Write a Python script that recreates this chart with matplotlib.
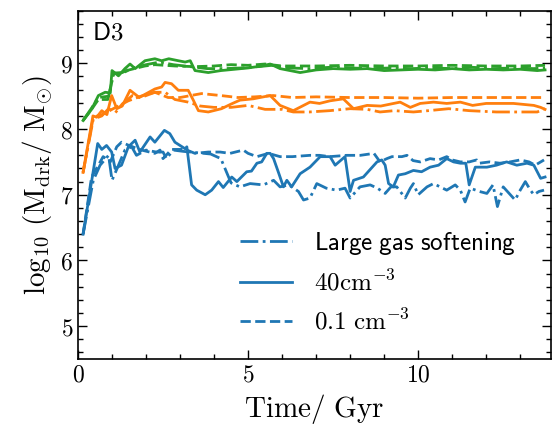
import numpy as np
import matplotlib
matplotlib.use('Agg')
import matplotlib.pyplot as plt
from matplotlib.ticker import MultipleLocator, FuncFormatter

plt.rcParams['mathtext.fontset'] = 'cm'
plt.rcParams['font.family'] = 'serif'
plt.rcParams['font.serif'] = ['DejaVu Serif']

# blue: run D3, three resolutions of the softening / density threshold
t_b_sol = [0.15, 0.58, 0.7, 0.84, 0.99, 1.09, 1.28, 1.48, 1.68, 1.82, 2.12, 2.26, 2.54, 2.7, 2.85, 3.15,
           3.2, 3.34, 3.49, 3.74, 3.93, 4.13, 4.27, 4.52, 4.67, 4.96, 5.1, 5.26, 5.4, 5.55, 5.65, 5.75,
           5.9, 6.04, 6.14, 6.28, 6.53, 6.82, 7.12, 7.41, 7.56, 7.85, 8.0, 8.1, 8.39, 8.79, 8.93, 9.03,
           9.13, 9.27, 9.42, 9.62, 9.86, 10.1, 10.35, 10.6, 10.84, 11.04, 11.24, 11.4, 11.5, 11.68,
           12.02, 12.3, 12.6, 12.9, 13.2, 13.4, 13.6, 13.73]
m_b_sol = [6.4, 7.78, 7.69, 7.75, 7.65, 7.40, 7.45, 7.73, 7.83, 7.65, 7.88, 7.80, 7.98, 7.93, 7.80, 7.70,
           7.73, 7.15, 7.07, 7.00, 7.07, 7.20, 7.11, 7.27, 7.20, 7.35, 7.36, 7.48, 7.50, 7.63, 7.63, 7.55,
           7.33, 7.12, 7.22, 7.12, 7.32, 7.42, 7.58, 7.58, 7.45, 7.58, 7.05, 7.22, 7.27, 7.50, 7.53, 7.45,
           7.17, 7.12, 7.30, 7.32, 7.37, 7.35, 7.42, 7.45, 7.55, 7.50, 7.48, 7.48, 7.15, 7.42,
           7.42, 7.45, 7.50, 7.45, 7.48, 7.45, 7.25, 7.27]

t_b_das = [0.15, 0.4, 0.6, 0.74, 0.95, 1.14, 1.28, 1.5, 1.87, 2.26, 2.41, 2.5, 2.75, 3.15, 3.44, 3.83,
           4.18, 4.47, 4.86, 5.0, 5.26, 5.6, 5.94, 6.3, 6.82, 7.1, 7.4, 7.9, 8.3, 8.7, 8.88, 9.08, 9.23,
           9.52, 9.67, 9.85, 10.06, 10.35, 10.6, 10.84, 11.0, 11.24, 11.5, 11.72, 11.8, 12.1, 12.4,
           12.7, 13.0, 13.26, 13.44, 13.7]
m_b_das = [6.4, 7.27, 7.45, 7.58, 7.50, 7.73, 7.80, 7.75, 7.68, 7.63, 7.68, 7.55, 7.69, 7.69, 7.63, 7.65,
           7.65, 7.63, 7.68, 7.63, 7.58, 7.63, 7.58, 7.58, 7.60, 7.60, 7.58, 7.60, 7.60, 7.63, 7.50, 7.55, 7.58,
           7.58, 7.60, 7.52, 7.50, 7.55, 7.53, 7.58, 7.53, 7.50, 7.50, 7.53, 7.48, 7.50, 7.48,
           7.50, 7.53, 7.50, 7.45, 7.53]

t_b_dd = [0.15, 0.45, 0.65, 0.9, 1.0, 1.15, 1.38, 1.58, 1.72, 2.0, 2.3, 2.5, 2.6, 2.8, 3.1, 3.5, 3.9,
          4.2, 4.5, 4.76, 5.06, 5.45, 5.75, 5.94, 6.2, 6.48, 6.63, 6.82, 7.02, 7.3, 7.6, 7.85, 8.0, 8.29,
          8.59, 8.8, 9.03, 9.2, 9.37, 9.62, 9.77, 9.86, 10.0, 10.26, 10.45, 10.84, 11.09, 11.24, 11.38,
          11.53, 11.8, 12.02, 12.2, 12.33, 12.5, 12.85, 13.0, 13.15, 13.3, 13.4, 13.55, 13.7]
m_b_dd = [6.4, 7.22, 7.45, 7.60, 7.22, 7.40, 7.68, 7.73, 7.60, 7.68, 7.65, 7.65, 7.55, 7.68, 7.66, 7.64, 7.62,
          7.55, 7.18, 7.12, 7.17, 7.15, 7.22, 7.12, 7.15, 7.05, 6.92, 6.95, 7.17, 7.10, 7.07, 7.10, 6.95, 7.12,
          7.15, 7.10, 7.02, 7.12, 7.12, 6.95, 7.10, 7.17, 7.00, 7.12, 7.17, 7.07, 7.15, 7.07, 6.89,
          7.10, 7.05, 7.02, 7.15, 6.82, 7.12, 6.92, 7.07, 7.20, 7.07, 7.00, 7.05, 7.07]

# orange
t_o_sol = [0.15, 0.44, 0.55, 0.7, 0.85, 0.99, 1.14, 1.3, 1.53, 1.73, 1.8, 2.26, 2.46, 2.56, 2.75, 2.95,
           3.24, 3.39, 3.54, 3.83, 4.22, 4.5, 4.76, 5.15, 5.65, 5.94, 6.33, 6.82, 7.1, 7.41, 7.8, 8.1,
           8.5, 8.9, 9.47, 9.77, 10.06, 10.45, 10.84, 11.24, 11.6, 12.0, 12.8, 13.4, 13.6, 13.73]
m_o_sol = [7.34, 8.20, 8.18, 8.28, 8.22, 8.51, 8.31, 8.35, 8.59, 8.51, 8.48, 8.61, 8.64, 8.71, 8.69, 8.59,
           8.59, 8.44, 8.28, 8.26, 8.31, 8.38, 8.44, 8.46, 8.51, 8.36, 8.28, 8.41, 8.39, 8.43, 8.46, 8.31,
           8.36, 8.35, 8.41, 8.33, 8.39, 8.41, 8.39, 8.41, 8.36, 8.39, 8.39, 8.36, 8.33, 8.30]

t_o_das = [0.15, 0.45, 0.7, 1.0, 1.48, 1.85, 2.26, 2.65, 3.0, 3.63, 4.2, 4.7, 5.2, 5.74, 6.3, 7.0,
           8.0, 9.0, 10.0, 11.0, 12.0, 13.0, 13.73]
m_o_das = [7.34, 8.18, 8.22, 8.30, 8.43, 8.50, 8.56, 8.48, 8.48, 8.54, 8.51, 8.48, 8.49, 8.51, 8.48, 8.49,
           8.48, 8.48, 8.47, 8.48, 8.48, 8.48, 8.48]

t_o_dd = [0.15, 0.45, 0.7, 0.9, 1.1, 1.3, 1.6, 1.85, 2.26, 2.56, 2.85, 3.24, 3.6, 4.0, 4.5, 5.0, 5.5,
          6.0, 6.33, 6.8, 7.4, 8.0, 8.5, 8.88, 9.3, 9.86, 10.3, 10.9, 11.5, 12.3, 13.0, 13.5, 13.73]
m_o_dd = [7.34, 8.15, 8.20, 8.31, 8.25, 8.38, 8.51, 8.48, 8.56, 8.56, 8.45, 8.41, 8.35, 8.33, 8.33, 8.36, 8.30,
          8.30, 8.26, 8.26, 8.28, 8.31, 8.30, 8.26, 8.28, 8.26, 8.28, 8.31, 8.28, 8.26, 8.26, 8.26, 8.31]

# green
t_g_sol = [0.15, 0.4, 0.6, 0.8, 0.95, 1.0, 1.19, 1.38, 1.53, 1.68, 1.97, 2.26, 2.46, 2.67, 2.95, 3.15,
           3.3, 3.44, 3.83, 4.2, 4.6, 5.0, 5.4, 5.65, 5.94, 6.53, 7.0, 7.5, 8.0, 8.5, 9.0, 9.5, 10.0,
           10.5, 11.0, 11.5, 12.0, 12.5, 13.0, 13.5, 13.73]
m_g_sol = [8.13, 8.30, 8.51, 8.56, 8.55, 8.89, 8.81, 8.92, 8.99, 8.92, 9.04, 9.07, 9.04, 9.07, 9.04, 9.02,
           9.04, 8.89, 8.86, 8.89, 8.91, 8.93, 8.96, 8.99, 8.92, 8.86, 8.90, 8.92, 8.91, 8.92, 8.89, 8.90, 8.91,
           8.90, 8.92, 8.90, 8.91, 8.90, 8.91, 8.89, 8.90]

t_g_das = [0.15, 0.4, 0.6, 0.88, 1.05, 1.3, 1.5, 1.97, 2.26, 2.85, 3.44, 4.0, 4.5, 5.0, 5.5, 6.0,
           7.0, 8.0, 9.0, 10.0, 11.0, 12.0, 13.0, 13.73]
m_g_das = [8.13, 8.30, 8.45, 8.45, 8.85, 8.85, 8.90, 8.96, 8.98, 8.96, 8.95, 8.96, 8.98, 8.97, 8.99, 8.96,
           8.96, 8.97, 8.96, 8.96, 8.97, 8.96, 8.96, 8.97]

t_g_dd = [0.15, 0.4, 0.6, 0.9, 1.05, 1.3, 1.6, 2.0, 2.4, 2.8, 3.3, 3.8, 4.3, 4.8, 5.3, 5.7, 6.2,
          6.8, 7.4, 8.0, 8.6, 9.2, 9.8, 10.4, 11.0, 11.6, 12.2, 12.8, 13.4, 13.73]
m_g_dd = [8.13, 8.32, 8.48, 8.50, 8.85, 8.86, 8.93, 8.98, 9.02, 8.98, 8.95, 8.92, 8.92, 8.93, 8.95, 8.97, 8.93,
          8.92, 8.94, 8.93, 8.92, 8.93, 8.92, 8.93, 8.92, 8.94, 8.92, 8.93, 8.92, 8.93]

fig = plt.figure(figsize=(5.55, 4.32), dpi=100)
ax = fig.add_axes([0.1405, 0.169, 0.852, 0.806])

lw = 2.0
ax.plot(t_g_dd, m_g_dd, c='tab:green', ls='-.', lw=lw)
ax.plot(t_g_sol, m_g_sol, c='tab:green', ls='-', lw=lw)
ax.plot(t_g_das, m_g_das, c='tab:green', ls='--', lw=lw)
ax.plot(t_o_dd, m_o_dd, c='tab:orange', ls='-.', lw=lw)
ax.plot(t_o_sol, m_o_sol, c='tab:orange', ls='-', lw=lw)
ax.plot(t_o_das, m_o_das, c='tab:orange', ls='--', lw=lw)
l1, = ax.plot(t_b_dd, m_b_dd, c='tab:blue', ls='-.', lw=lw)
l2, = ax.plot(t_b_sol, m_b_sol, c='tab:blue', ls='-', lw=lw)
l3, = ax.plot(t_b_das, m_b_das, c='tab:blue', ls='--', lw=lw)

ax.legend([l1, l2, l3],
          [r'$\mathsf{Large\ gas\ softening}$', r'$40\mathrm{cm}^{-3}$', r'$0.1\ \mathrm{cm}^{-3}$'],
          loc='upper left', frameon=False, fontsize=18, handlelength=2.1, handletextpad=0.85,
          bbox_to_anchor=(0.3425, 0.37), borderaxespad=0, borderpad=0, labelspacing=0.52)

ax.text(0.03, 0.968, r'$\mathsf{D3}$', transform=ax.transAxes, fontsize=18, va='top', ha='left')

ax.set_xlim(0, 13.9)
ax.set_ylim(4.5, 9.8)
ax.xaxis.set_major_locator(MultipleLocator(5))
ax.xaxis.set_minor_locator(MultipleLocator(1))
ax.yaxis.set_major_locator(MultipleLocator(1))
ax.yaxis.set_minor_locator(MultipleLocator(0.2))
ax.tick_params(which='both', direction='in', top=True, right=True, labelsize=17, width=1.0)
ax.tick_params(which='major', length=6.5)
ax.tick_params(which='minor', length=3.5)
for s in ax.spines.values():
    s.set_linewidth(1.2)

ax.set_xlabel(r'$\mathrm{Time/\ Gyr}$', fontsize=21)
ax.set_ylabel(r'$\log_{10}\,(\mathrm{M_{drk}/\ M_{\odot}})$', fontsize=21)

ax.xaxis.set_major_formatter(FuncFormatter(lambda v, p: r'$%d$' % v))
ax.yaxis.set_major_formatter(FuncFormatter(lambda v, p: r'$%d$' % v))

fig.savefig('out.png', dpi=100)
